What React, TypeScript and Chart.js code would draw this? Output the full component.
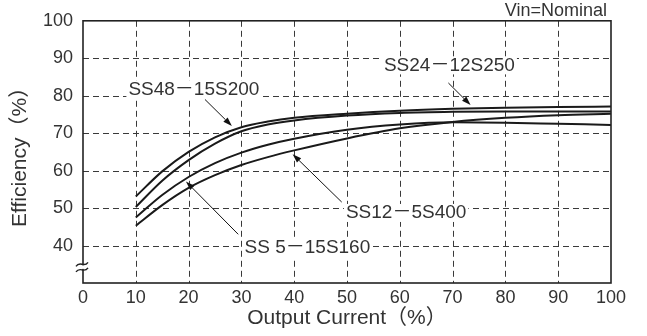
import { useEffect, useRef } from 'react';
import { Chart, registerables } from 'chart.js';

Chart.register(...registerables);

// Output current (%) at which curves were read
const loadPercent = [10, 15, 20, 25, 30, 35, 40, 50, 60, 70, 80, 90, 100];
// Efficiency (%) curves
const curveA = [53.1, 59.8, 65.0, 68.9, 71.6, 73.1, 74.1, 75.2, 76.0, 76.5, 76.8, 77.0, 77.1];
const curveB = [50.3, 57.3, 62.8, 67.2, 70.5, 72.3, 73.4, 74.7, 75.4, 75.7, 75.8, 75.8, 75.8];
const curveC = [47.5, 53.5, 58.3, 62.0, 64.8, 66.9, 68.5, 70.9, 72.3, 72.9, 72.8, 72.5, 72.2];
const curveD = [45.3, 50.8, 55.4, 58.8, 61.5, 63.6, 65.4, 68.6, 71.3, 73.0, 74.1, 74.8, 75.2];

const xTickValues = [0, 10, 20, 30, 40, 50, 60, 70, 80, 90, 100];
const yTickValues = [30, 40, 50, 60, 70, 80, 90, 100];

// annotation labels, in data units
const labelTexts = ['SS48－15S200', 'SS24－12S250', 'SS12－5S400', 'SS 5－15S160'];
const labelX = [21.0, 69.4, 61.2, 42.5];
const labelY = [81.6, 88.1, 48.7, 39.3];
// arrows (from -> tip), in data units
const arrowFromX = [23.1, 69.2, 49.0, 29.4];
const arrowFromY = [79.0, 83.4, 51.6, 43.0];
const arrowToX = [28.2, 73.4, 39.7, 19.5];
const arrowToY = [71.9, 77.5, 64.4, 57.1];

const FONT = "'Liberation Sans', 'Noto Sans CJK JP', sans-serif";
const TEXT = '#333';

const dashedGrid = {
  id: 'dashedGrid',
  beforeDatasetsDraw(chart: any) {
    const { ctx, chartArea, scales } = chart;
    const { left, right, top, bottom } = chartArea;
    ctx.save();
    ctx.strokeStyle = '#3a3a3a';
    ctx.lineWidth = 1;
    ctx.setLineDash([6, 4]);
    xTickValues.slice(1, -1).forEach((v) => {
      const px = Math.round(scales.x.getPixelForValue(v)) + 0.5;
      ctx.beginPath();
      ctx.moveTo(px, top);
      ctx.lineTo(px, bottom);
      ctx.stroke();
    });
    yTickValues.slice(1, -1).forEach((v) => {
      const py = Math.round(scales.y.getPixelForValue(v)) + 0.5;
      ctx.beginPath();
      ctx.moveTo(left, py);
      ctx.lineTo(right, py);
      ctx.stroke();
    });
    ctx.restore();
  },
};

const decor = {
  id: 'decor',
  afterDraw(chart: any) {
    const { ctx, chartArea, scales } = chart;
    const { left, right, top, bottom } = chartArea;
    const xs = scales.x;
    const ys = scales.y;
    ctx.save();

    // labels with white background
    ctx.font = `19px ${FONT}`;
    ctx.textAlign = 'center';
    ctx.textBaseline = 'middle';
    labelTexts.forEach((t, i) => {
      const px = xs.getPixelForValue(labelX[i]);
      const py = ys.getPixelForValue(labelY[i]);
      const w = ctx.measureText(t).width;
      ctx.fillStyle = '#fff';
      ctx.fillRect(px - w / 2 - 2, py - 9, w + 4, 18);
      ctx.fillStyle = TEXT;
      ctx.fillText(t, px, py);
    });

    // arrows
    ctx.strokeStyle = '#111';
    ctx.fillStyle = '#111';
    ctx.lineWidth = 1;
    arrowFromX.forEach((_, i) => {
      const x1 = xs.getPixelForValue(arrowFromX[i]);
      const y1 = ys.getPixelForValue(arrowFromY[i]);
      const x2 = xs.getPixelForValue(arrowToX[i]);
      const y2 = ys.getPixelForValue(arrowToY[i]);
      const ang = Math.atan2(y2 - y1, x2 - x1);
      const len = 9, half = 3;
      const bx = x2 - len * Math.cos(ang);
      const by = y2 - len * Math.sin(ang);
      ctx.beginPath();
      ctx.moveTo(x1, y1);
      ctx.lineTo(bx, by);
      ctx.stroke();
      ctx.beginPath();
      ctx.moveTo(x2, y2);
      ctx.lineTo(bx + half * Math.sin(ang), by - half * Math.cos(ang));
      ctx.lineTo(bx - half * Math.sin(ang), by + half * Math.cos(ang));
      ctx.closePath();
      ctx.fill();
    });

    // frame
    ctx.strokeStyle = '#222';
    ctx.lineWidth = 1.6;
    ctx.strokeRect(left, top, right - left, bottom - top);

    // axis break symbol
    const b1 = ys.getPixelForValue(35.0);
    const b2 = ys.getPixelForValue(33.5);
    ctx.fillStyle = '#fff';
    ctx.fillRect(left - 2, b1 + 1, 4, b2 - b1 - 2);
    ctx.strokeStyle = '#222';
    ctx.lineWidth = 1.4;
    [b1, b2].forEach((by) => {
      ctx.beginPath();
      ctx.moveTo(left - 7, by + 2);
      ctx.bezierCurveTo(left - 3, by - 4, left + 1, by + 4, left + 5, by - 2);
      ctx.stroke();
    });

    // condition note
    ctx.font = `18px ${FONT}`;
    ctx.fillStyle = TEXT;
    ctx.textAlign = 'right';
    ctx.textBaseline = 'alphabetic';
    ctx.fillText('Vin=Nominal', right - 4, top - 5);
    ctx.restore();
  },
};

export default function App() {
  const ref = useRef<HTMLCanvasElement>(null);
  useEffect(() => {
    document.body.style.margin = '0';
    const canvas = ref.current!;
    const mk = (data: number[]) => ({
      data: loadPercent.map((x, i) => ({ x, y: data[i] })),
      borderColor: '#1a1a1a',
      borderWidth: 2,
      pointRadius: 0,
      fill: false,
      cubicInterpolationMode: 'monotone' as const,
    });
    const chart = new Chart(canvas, {
      type: 'line',
      data: {
        datasets: [mk(curveA), mk(curveB), mk(curveC), mk(curveD)],
      },
      options: {
        animation: false,
        responsive: false,
        events: [],
        layout: { padding: { left: 0, right: 36, top: 19, bottom: 0 } },
        plugins: { legend: { display: false }, tooltip: { enabled: false } },
        scales: {
          x: {
            type: 'linear',
            min: 0,
            max: 100,
            afterFit: (s: any) => { s.height = 53; },
            afterBuildTicks: (s: any) => { s.ticks = xTickValues.map((v) => ({ value: v })); },
            grid: { display: false, drawTicks: false },
            border: { display: false },
            ticks: { color: TEXT, font: { family: FONT, size: 18 }, padding: 4, maxRotation: 0 },
            title: {
              display: true,
              text: 'Output Current（%）',
              color: TEXT,
              font: { family: FONT, size: 21, lineHeight: 1.2 },
              padding: { top: 0, bottom: 5 },
            },
          },
          y: {
            type: 'linear',
            min: 30,
            max: 100,
            afterFit: (s: any) => { s.width = 83; },
            afterBuildTicks: (s: any) => { s.ticks = yTickValues.map((v) => ({ value: v })); },
            grid: { display: false, drawTicks: false },
            border: { display: false },
            ticks: {
              color: TEXT,
              font: { family: FONT, size: 18 },
              padding: 10,
              callback: (v: any) => (v === 30 ? '' : String(v)),
            },
            title: {
              display: true,
              text: 'Efficiency（%）',
              color: TEXT,
              font: { family: FONT, size: 21, lineHeight: 1.2 },
              padding: { top: 8, bottom: 0 },
            },
          },
        },
      },
      plugins: [dashedGrid, decor],
    });
    return () => chart.destroy();
  }, []);
  return (
    <div style={{ width: 647, height: 336 }}>
      <canvas ref={ref} width={647} height={336} />
    </div>
  );
}
